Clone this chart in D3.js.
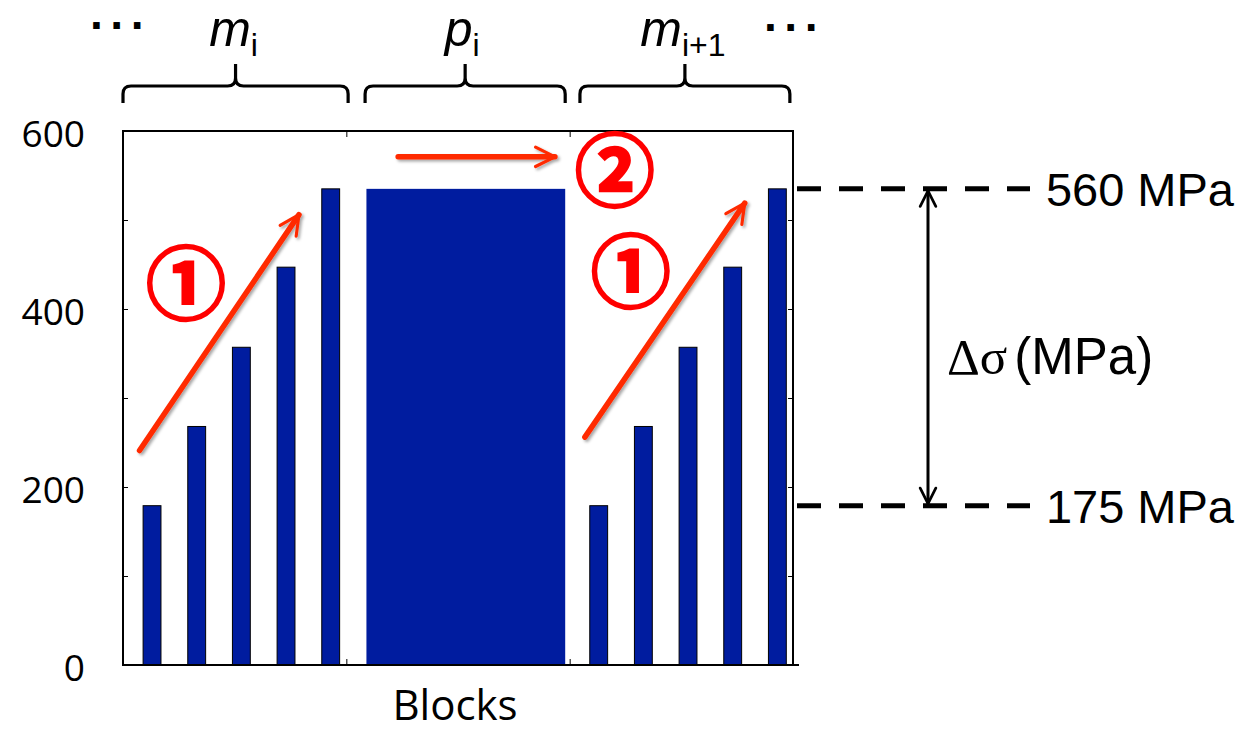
<!DOCTYPE html>
<html lang="en">
<head>
<meta charset="UTF-8">
<title>Blocks</title>
<style>
  body { margin: 0; background: #fff; }
  text { font-family: "Liberation Sans", Arial, sans-serif; }
</style>
</head>
<body>
<script src="https://cdn.jsdelivr.net/npm/d3@7/dist/d3.min.js"></script>
<div id="chart"></div>
<script>
// data
var mStress = [179, 268, 357, 447, 535]   // stress of the 5 blocks in m_i and m_i+1
var pStress = 535                          // plateau block p_i
var yTickValues = [0, 100, 200, 300, 400, 500, 600]
var yTickLabels = [0, 200, 400, 600]
var levelLabels = ["560 MPa", "175 MPa"]
var groupNames = [["m", "i"], ["p", "i"], ["m", "i+1"]]

var width = 1246, height = 733
var red = "#ff2a00"
var barColor = "#001c9f"

var svg = d3.select("#chart").append("svg")
  .attr("width", width).attr("height", height)

var x = d3.scaleLinear().domain([0, 15]).range([123, 793])
var y = d3.scaleLinear().domain([0, 600]).range([665, 131])

var defs = svg.append("defs")
defs.append("filter").attr("id", "shadow")
  .attr("filterUnits", "userSpaceOnUse")
  .attr("x", 0).attr("y", 0).attr("width", width).attr("height", height)
  .append("feDropShadow")
  .attr("dx", 2).attr("dy", 2).attr("stdDeviation", 1.5)
  .attr("flood-color", "#000").attr("flood-opacity", 0.35)

// bars of m_i (slots 0-4) and m_i+1 (slots 10-14)
var mBars = []
mStress.forEach(function(s, i) { mBars.push({ slot: i, s: s }) })
mStress.forEach(function(s, i) { mBars.push({ slot: 10 + i, s: s }) })

svg.selectAll(".mbar").data(mBars).enter().append("rect")
  .attr("class", "mbar")
  .attr("x", function(d) { return x(d.slot + 0.45) })
  .attr("width", function(d) { return x(d.slot + 0.85) - x(d.slot + 0.45) })
  .attr("y", function(d) { return y(d.s) })
  .attr("height", function(d) { return y(0) - y(d.s) })
  .attr("fill", barColor)
  .attr("stroke", "#000").attr("stroke-width", 1)

svg.append("rect")
  .attr("x", x(5.45)).attr("width", x(9.9) - x(5.45))
  .attr("y", y(pStress)).attr("height", y(0) - y(pStress))
  .attr("fill", barColor)

// frame
svg.append("rect")
  .attr("x", x(0)).attr("y", y(600))
  .attr("width", x(15) - x(0)).attr("height", y(0) - y(600))
  .attr("fill", "none").attr("stroke", "#000").attr("stroke-width", 2)
svg.append("line")
  .attr("x1", x(15)).attr("x2", x(15) + 6).attr("y1", y(0)).attr("y2", y(0))
  .attr("stroke", "#000").attr("stroke-width", 2)

// y axis left (ticks inside)
var yAxis = d3.axisLeft(y).tickValues(yTickValues).tickSize(-5).tickSizeOuter(0).tickPadding(38)
  .tickFormat(function(d) { return yTickLabels.indexOf(d) >= 0 ? d : "" })
var gy = svg.append("g").attr("transform", "translate(" + x(0) + ",0)").call(yAxis)
gy.select(".domain").remove()
gy.selectAll("text")
  .style("font-family", "'Open Sans', sans-serif").style("font-size", "37px")
  .attr("fill", "#000").attr("dy", "0.42em")

var yAxisR = d3.axisRight(y).tickValues(yTickValues).tickSize(-5).tickSizeOuter(0).tickFormat("")
var gyr = svg.append("g").attr("transform", "translate(" + x(15) + ",0)").call(yAxisR)
gyr.select(".domain").remove()

// x ticks (group boundaries) top and bottom
var gxb = svg.append("g").attr("transform", "translate(0," + y(0) + ")")
  .call(d3.axisBottom(x).tickValues([5, 10]).tickSize(-6).tickSizeOuter(0).tickFormat(""))
gxb.select(".domain").remove()
var gxt = svg.append("g").attr("transform", "translate(0," + y(600) + ")")
  .call(d3.axisTop(x).tickValues([5, 10]).tickSize(-6).tickSizeOuter(0).tickFormat(""))
gxt.select(".domain").remove()

svg.append("text")
  .attr("x", 455).attr("y", 720)
  .attr("text-anchor", "middle")
  .style("font-family", "'Open Sans', sans-serif").style("font-size", "42px")
  .text("Blocks")

// curly brackets above the groups
var spans = [[0, 5.04], [5.42, 9.9], [10.23, 14.93]]
function bracket(x0, x1) {
  var xc = (x0 + x1) / 2, yh = 86, yb = 103, yt = 64, r = 8
  return "M" + x0 + "," + yb + "L" + x0 + "," + (yh + r) +
    "Q" + x0 + "," + yh + " " + (x0 + r) + "," + yh +
    "L" + (xc - r) + "," + yh + "Q" + xc + "," + yh + " " + xc + "," + (yh - r) +
    "L" + xc + "," + yt +
    "M" + xc + "," + (yh - r) + "Q" + xc + "," + yh + " " + (xc + r) + "," + yh +
    "L" + (x1 - r) + "," + yh + "Q" + x1 + "," + yh + " " + x1 + "," + (yh + r) +
    "L" + x1 + "," + yb
}
svg.selectAll(".brace").data(spans).enter().append("path")
  .attr("class", "brace")
  .attr("d", function(d) { return bracket(x(d[0]), x(d[1])) })
  .attr("fill", "none").attr("stroke", "#000").attr("stroke-width", 3.2)

var labelX = [x(5.04 / 2) - 2, x((5.42 + 9.9) / 2) - 3, x((10.23 + 14.93) / 2) - 2]
groupNames.forEach(function(g, i) {
  var t = svg.append("text")
    .attr("x", labelX[i]).attr("y", 46)
    .attr("text-anchor", "middle")
    .style("font-size", "50px")
  t.append("tspan").style("font-style", "italic").text(g[0])
  t.append("tspan").attr("dy", 10).style("font-size", "32px").text(g[1])
})
svg.append("text").attr("x", 90).attr("y", 41)
  .style("font-size", "46px").style("font-weight", "bold").style("letter-spacing", "5px").text("···")
svg.append("text").attr("x", 764).attr("y", 43)
  .style("font-size", "46px").style("font-weight", "bold").style("letter-spacing", "5px").text("···")

// red arrows
defs.append("marker").attr("id", "head")
  .attr("viewBox", "0 0 10 10").attr("refX", 9).attr("refY", 5)
  .attr("markerWidth", 4.4).attr("markerHeight", 4.4)
  .attr("markerUnits", "strokeWidth").attr("orient", "auto")
  .append("path").attr("d", "M1,1 L9,5 L1,9")
  .attr("fill", "none").attr("stroke", red).attr("stroke-width", 1.3)
  .attr("stroke-linecap", "round").attr("stroke-linejoin", "round")

var arrows = [
  [[0.37, 241], [3.94, 506]],
  [[10.34, 256], [13.92, 519]],
  [[6.16, 571], [9.67, 571]]
]
svg.selectAll(".arrow").data(arrows).enter().append("line")
  .attr("class", "arrow")
  .attr("x1", function(d) { return x(d[0][0]) }).attr("y1", function(d) { return y(d[0][1]) })
  .attr("x2", function(d) { return x(d[1][0]) }).attr("y2", function(d) { return y(d[1][1]) })
  .attr("stroke", red).attr("stroke-width", 5.5).attr("stroke-linecap", "round")
  .attr("marker-end", "url(#head)")
  .attr("filter", "url(#shadow)")

var steps = [["①", 1.41, 428], ["①", 11.37, 441], ["②", 11.01, 555]]
svg.selectAll(".step").data(steps).enter().append("text")
  .attr("class", "step")
  .attr("x", function(d) { return x(d[1]) }).attr("y", function(d) { return y(d[2]) })
  .attr("text-anchor", "middle").attr("dy", "0.36em")
  .style("font-family", "'Noto Sans CJK JP', sans-serif")
  .style("font-size", "80px").style("font-weight", "bold")
  .attr("fill", "#ff0000").attr("stroke", "#ff0000").attr("stroke-width", 2.5)
  .text(function(d) { return d[0] })

// stress range annotation
var levels = [d3.max(mStress), d3.min(mStress)]
svg.selectAll(".level").data(levels).enter().append("line")
  .attr("class", "level")
  .attr("x1", x(15) + 4).attr("x2", 1030)
  .attr("y1", function(d) { return y(d) }).attr("y2", function(d) { return y(d) })
  .attr("stroke", "#000").attr("stroke-width", 5).attr("stroke-dasharray", "24,18")

svg.selectAll(".levlab").data(levels).enter().append("text")
  .attr("class", "levlab")
  .attr("x", 1234).attr("y", function(d) { return y(d) })
  .attr("dy", "0.36em").attr("text-anchor", "end")
  .style("font-size", "47px")
  .text(function(d, i) { return levelLabels[i] })

defs.append("marker").attr("id", "chev")
  .attr("viewBox", "0 0 10 10").attr("refX", 9).attr("refY", 5)
  .attr("markerWidth", 6.5).attr("markerHeight", 6.5)
  .attr("markerUnits", "strokeWidth").attr("orient", "auto-start-reverse")
  .append("path").attr("d", "M1,1 L9,5 L1,9")
  .attr("fill", "none").attr("stroke", "#000").attr("stroke-width", 1.4)
  .attr("stroke-linecap", "round")

svg.append("line")
  .attr("x1", 928).attr("x2", 928)
  .attr("y1", y(levels[0]) + 2).attr("y2", y(levels[1]) - 2)
  .attr("stroke", "#000").attr("stroke-width", 3)
  .attr("marker-start", "url(#chev)").attr("marker-end", "url(#chev)")

var dl = svg.append("text").attr("x", 947).attr("y", 374).style("font-size", "51px")
dl.append("tspan").style("font-family", "'Liberation Serif', serif").text("Δσ")
dl.append("tspan").attr("dx", 7).text("(MPa)")
</script>
</body>
</html>
